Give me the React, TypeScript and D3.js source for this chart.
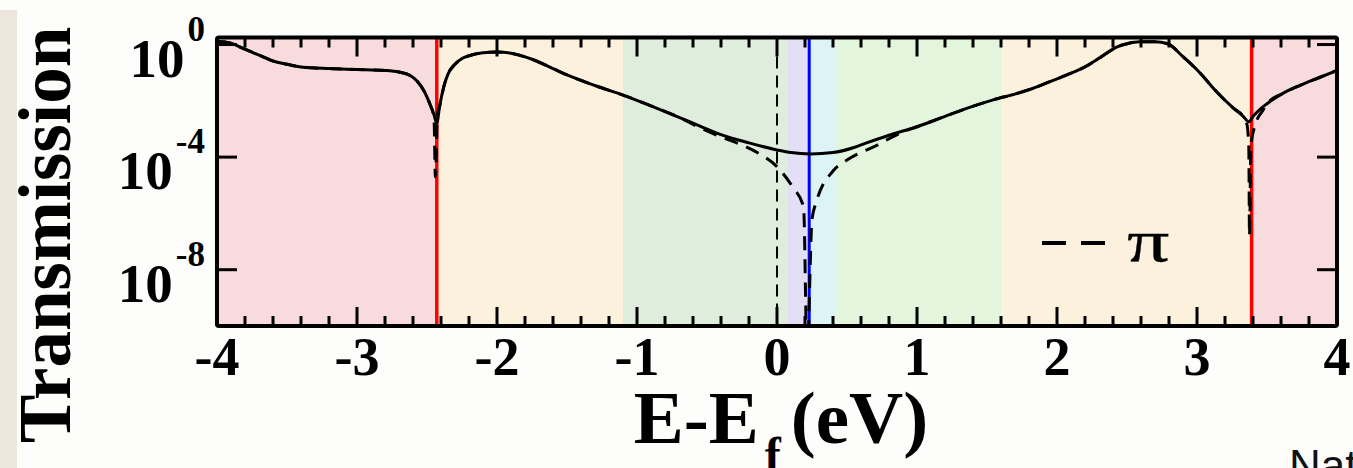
import React from "react";
import * as d3 from "d3";

// ---------- data ----------
const energyTotal = [
  -4.0, -3.9, -3.81, -3.7, -3.6, -3.5, -3.4, -3.2, -3.0, -2.8, -2.7, -2.62, -2.57, -2.52, -2.48, -2.45, -2.43,
  -2.41, -2.38, -2.35, -2.3, -2.25, -2.2, -2.1, -2.0, -1.9, -1.75, -1.6, -1.5, -1.3, -1.1, -0.9, -0.7, -0.55,
  -0.4, -0.2, 0.0, 0.1, 0.24, 0.4, 0.55, 0.64, 0.8, 1.0, 1.2, 1.36, 1.55, 1.71, 1.83, 1.95, 2.07, 2.2, 2.31,
  2.43, 2.5, 2.59, 2.7, 2.79, 2.9, 3.02, 3.14, 3.26, 3.33, 3.37, 3.4, 3.45, 3.5, 3.61, 3.74, 3.87, 4.0,
];
const transTotal = [
  1.32, 1.12, 0.71, 0.42, 0.26, 0.2, 0.16, 0.14, 0.13, 0.12, 0.105, 0.079, 0.05, 0.022, 7.9e-3, 3.2e-3, 1.6e-3,
  6.3e-3, 0.032, 0.089, 0.2, 0.32, 0.4, 0.51, 0.54, 0.49, 0.3, 0.14, 0.083, 0.035, 0.016, 6.6e-3, 2.6e-3, 1.26e-3,
  6.3e-4, 3.2e-4, 1.8e-4, 1.45e-4, 1.3e-4, 1.45e-4, 2.2e-4, 3.2e-4, 6.0e-4, 1.2e-3, 2.8e-3, 5.5e-3, 0.011, 0.018,
  0.028, 0.048, 0.083, 0.16, 0.35, 0.83, 1.07, 1.26, 1.26, 1.07, 0.37, 0.1, 0.021, 5.5e-3, 2.8e-3, 1.8e-3, 2.8e-3,
  5.0e-3, 7.9e-3, 0.018, 0.036, 0.066, 0.12,
];

const energyPi = [
  -4.0, -3.9, -3.81, -3.7, -3.6, -3.5, -3.4, -3.2, -3.0, -2.8, -2.7, -2.62, -2.57, -2.52, -2.48, -2.45, -2.44,
  -2.425, -2.41, -2.38, -2.35, -2.3, -2.25, -2.2, -2.1, -2.0, -1.9, -1.75, -1.6, -1.5, -1.3, -1.1, -0.9, -0.7,
  -0.55, -0.4, -0.26, -0.12, 0.0, 0.11, 0.19, 0.215, 0.25, 0.28, 0.4, 0.5, 0.59, 0.69, 0.8, 0.9, 1.0, 1.2, 1.36,
  1.55, 1.71, 1.83, 1.95, 2.07, 2.2, 2.31, 2.43, 2.5, 2.59, 2.7, 2.79, 2.9, 3.02, 3.14, 3.26, 3.33, 3.355, 3.37,
  3.375, 3.385, 3.42, 3.47, 3.5, 3.61, 3.74, 3.87, 4.0,
];
const transPi = [
  1.32, 1.12, 0.71, 0.42, 0.26, 0.2, 0.16, 0.14, 0.13, 0.12, 0.105, 0.079, 0.05, 0.022, 7.9e-3, 2.5e-3, 2e-5,
  3.5e-3, 6.3e-3, 0.032, 0.089, 0.2, 0.32, 0.4, 0.51, 0.54, 0.49, 0.3, 0.14, 0.083, 0.035, 0.016, 6.6e-3, 2.6e-3,
  1.1e-3, 5.2e-4, 2.8e-4, 1.26e-4, 4.6e-5, 8.9e-6, 1.7e-6, 1e-11, 6.3e-7, 2.5e-6, 3.2e-5, 7.9e-5, 1.4e-4, 2.3e-4,
  4.5e-4, 7.9e-4, 1.2e-3, 2.8e-3, 5.5e-3, 0.011, 0.018, 0.028, 0.048, 0.083, 0.16, 0.35, 0.83, 1.07, 1.26, 1.26,
  1.07, 0.37, 0.1, 0.021, 5.5e-3, 2.8e-3, 1.6e-3, 2.5e-4, 1.6e-7, 2.5e-4, 1.6e-3, 4.5e-3, 7.9e-3, 0.018, 0.036,
  0.066, 0.12,
];

// background energy bands
const bandStart = [-4.0, -2.43, -1.1, 0.07, 0.23, 0.42, 1.6, 3.39];
const bandEnd = [-2.43, -1.1, 0.07, 0.23, 0.42, 1.6, 3.39, 4.0];
const bandColor = ["#f8dcdd", "#fbf1dd", "#dfeedc", "#e2dff6", "#dcf4f6", "#e3f6dd", "#fbf1dd", "#f8dcdd"];

// vertical markers
const redLines = [-2.43, 3.39];
const blueLine = 0.23;
const fermiLine = 0.0;

// axis ticks
const xTickLabels = ["-4", "-3", "-2", "-1", "0", "1", "2", "3", "4"];
const yTickValues = [1, 1e-4, 1e-8];
const yTickExponents = ["0", "-4", "-8"];

// ---------- layout ----------
const W = 1353;
const H = 468;
const L = 217;
const R = 1337;
const T = 37.5;
const B = 326;
const serif = "'Liberation Serif', 'Times New Roman', serif";

export default function App() {
  const x = d3.scaleLinear().domain([-4, 4]).range([L, R]);
  const y = d3.scaleLog().domain([1e-10, 1.778]).range([B, T]);

  const line = d3
    .line<[number, number]>()
    .x((d) => x(d[0]))
    .y((d) => y(Math.max(d[1], 1e-13)))
    .curve(d3.curveMonotoneX);

  const totalPath = line(energyTotal.map((e, i) => [e, transTotal[i]]))!;
  const piPath = line(energyPi.map((e, i) => [e, transPi[i]]))!;

  const minor = x.ticks(40);
  const major = x.ticks(8);

  return (
    <svg
      width={W}
      height={H}
      style={{ position: "absolute", left: 0, top: 0, background: "#fdfdfc" }}
    >
      <rect x={0} y={0} width={W} height={H} fill="#fdfdfc" />
      <rect x={0} y={10} width={17} height={H - 10} fill="#ece6dc" />
      <defs>
        <clipPath id="plotclip">
          <rect x={L} y={T} width={R - L} height={B - T} />
        </clipPath>
      </defs>

      {bandStart.map((s, i) => (
        <rect
          key={"b" + i}
          x={x(s)}
          y={T}
          width={x(bandEnd[i]) - x(s)}
          height={B - T}
          fill={bandColor[i]}
        />
      ))}

      <line
        x1={x(fermiLine)}
        x2={x(fermiLine)}
        y1={T}
        y2={B}
        stroke="#000"
        strokeWidth={2}
        strokeDasharray="12,7"
      />
      {redLines.map((e, i) => (
        <line key={"r" + i} x1={x(e)} x2={x(e)} y1={T} y2={B} stroke="#f00" strokeWidth={3.5} />
      ))}
      <line x1={x(blueLine)} x2={x(blueLine)} y1={T} y2={B} stroke="#00f" strokeWidth={3} />

      <g clipPath="url(#plotclip)">
        <path d={piPath} fill="none" stroke="#000" strokeWidth={3} strokeDasharray="14,9" />
        <path d={totalPath} fill="none" stroke="#000" strokeWidth={3} />
      </g>

      {/* x ticks, bottom and top */}
      {minor.map((t, i) => {
        const isMajor = major.some((m) => Math.abs(m - t) < 1e-9);
        const len = isMajor ? 19 : 10;
        return (
          <g key={"xt" + i} stroke="#000" strokeWidth={3}>
            <line x1={x(t)} x2={x(t)} y1={B} y2={B - len} />
            <line x1={x(t)} x2={x(t)} y1={T} y2={T + len} />
          </g>
        );
      })}
      {/* y ticks, left and right */}
      {yTickValues.map((v, i) => (
        <g key={"yt" + i} stroke="#000" strokeWidth={3}>
          <line x1={L} x2={L + 20} y1={y(v)} y2={y(v)} />
          <line x1={R} x2={R - 20} y1={y(v)} y2={y(v)} />
        </g>
      ))}

      <rect
        x={L}
        y={T}
        width={R - L}
        height={B - T}
        fill="none"
        stroke="#000"
        strokeWidth={4}
        rx={2}
      />

      {/* x tick labels */}
      {major.map((t, i) => (
        <text
          key={"xl" + i}
          x={x(t)}
          y={375}
          textAnchor="middle"
          fontFamily={serif}
          fontWeight="bold"
          fontSize={54}
          fill="#000"
        >
          {xTickLabels[i]}
        </text>
      ))}

      {/* y tick labels */}
      {yTickValues.map((v, i) => (
        <text
          key={"yl" + i}
          x={205}
          y={y(v) + 32}
          textAnchor="end"
          fontFamily={serif}
          fontWeight="bold"
          fontSize={55}
          fill="#000"
        >
          10
          <tspan fontSize={35} dy={-36} dx={3}>
            {yTickExponents[i]}
          </tspan>
        </text>
      ))}

      {/* axis titles */}
      <text
        x={781}
        y={443}
        textAnchor="middle"
        fontFamily={serif}
        fontWeight="bold"
        fontSize={75}
        fill="#000"
      >
        E-E
        <tspan fontSize={48} dy={28} dx={6}>
          f
        </tspan>
        <tspan dy={-28} dx={10}>
          (eV)
        </tspan>
      </text>
      <text
        transform="translate(70,235) rotate(-90)"
        textAnchor="middle"
        fontFamily={serif}
        fontWeight="bold"
        fontSize={73}
        fill="#000"
      >
        Transmission
      </text>

      {/* legend */}
      <line x1={1042} x2={1105} y1={243} y2={243} stroke="#000" strokeWidth={4} strokeDasharray="24,15" />
      <text
        transform="translate(1127,261) scale(1.4,1)"
        fontFamily={serif}
        fontSize={60}
        fill="#000"
        stroke="#000"
        strokeWidth={0.3}
      >
        π
      </text>

      {/* caption fragment */}
      <text x={1289} y={481} fontFamily="'Liberation Sans', Arial, sans-serif" fontSize={44} fill="#111">
        Nat
      </text>
    </svg>
  );
}
